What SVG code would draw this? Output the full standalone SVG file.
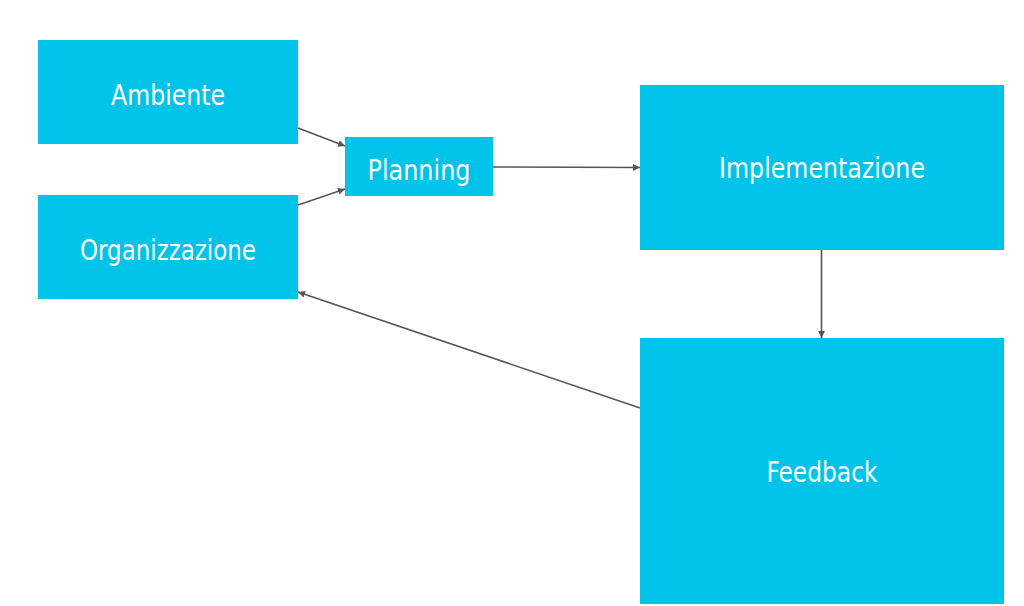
<svg xmlns="http://www.w3.org/2000/svg" width="1024" height="606" viewBox="0 0 1024 606">
<defs>
<style>
.box{fill:#00c3e9}
.lbl{fill:#ffffff;font-family:"DejaVu Sans Condensed","Liberation Sans Narrow","Open Sans",sans-serif;font-size:29px;font-weight:300;text-anchor:middle}
.edge{stroke:#555555;stroke-width:1.6;fill:none;marker-end:url(#arr)}
</style>
<marker id="arr" viewBox="0 0 10 10" refX="10" refY="5" markerWidth="7" markerHeight="7" markerUnits="userSpaceOnUse" orient="auto">
<path d="M0,0 L10,5 L0,10 z" fill="#555555"/>
</marker>
</defs>
<rect width="1024" height="606" fill="#ffffff"/>
<g id="connectors">
<line class="edge" x1="298" y1="128" x2="345" y2="146"/>
<line class="edge" x1="298" y1="205" x2="345" y2="189"/>
<line class="edge" x1="493" y1="167" x2="640" y2="167.5"/>
<line class="edge" x1="821.5" y1="250" x2="821.5" y2="338"/>
<line class="edge" x1="640" y1="408" x2="298" y2="292"/>
</g>
<g id="ambiente">
<rect class="box" x="38" y="40" width="260" height="104"/>
<text class="lbl" x="168" y="105" textLength="114" lengthAdjust="spacingAndGlyphs">Ambiente</text>
</g>
<g id="organizzazione">
<rect class="box" x="38" y="195" width="260" height="104"/>
<text class="lbl" x="168" y="260" textLength="176" lengthAdjust="spacingAndGlyphs">Organizzazione</text>
</g>
<g id="planning">
<rect class="box" x="345" y="137" width="148" height="59"/>
<text class="lbl" x="419" y="180" textLength="103" lengthAdjust="spacingAndGlyphs">Planning</text>
</g>
<g id="implementazione">
<rect class="box" x="640" y="85" width="364" height="165"/>
<text class="lbl" x="822" y="178" textLength="206" lengthAdjust="spacingAndGlyphs">Implementazione</text>
</g>
<g id="feedback">
<rect class="box" x="640" y="338" width="364" height="266"/>
<text class="lbl" x="822" y="482" textLength="111" lengthAdjust="spacingAndGlyphs">Feedback</text>
</g>
</svg>
